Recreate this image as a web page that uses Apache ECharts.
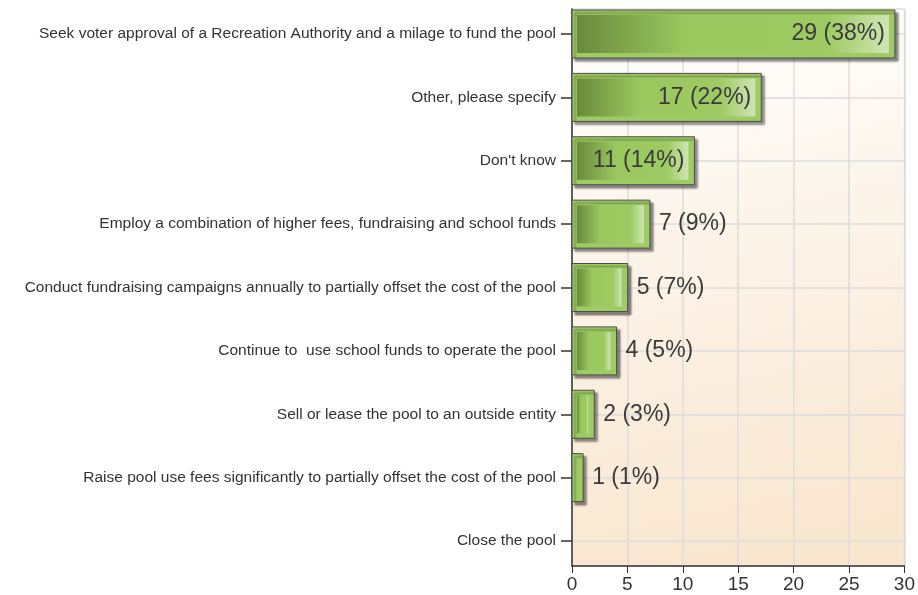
<!DOCTYPE html>
<html>
<head>
<meta charset="utf-8">
<script src="https://cdn.jsdelivr.net/npm/echarts@6/dist/echarts.min.js"></script>
<style>
  html, body { margin: 0; padding: 0; background: #fff; }
  #chart { width: 918px; height: 595px; }
</style>
</head>
<body>
<div id="chart"></div>
<script>
// survey answers, top to bottom
var categories = [
  'Seek voter approval of a Recreation Authority and a milage to fund the pool',
  'Other, please specify',
  "Don't know",
  'Employ a combination of higher fees, fundraising and school funds',
  'Conduct fundraising campaigns annually to partially offset the cost of the pool',
  'Continue to  use school funds to operate the pool',
  'Sell or lease the pool to an outside entity',
  'Raise pool use fees significantly to partially offset the cost of the pool',
  'Close the pool'
];
var counts = [29, 17, 11, 7, 5, 4, 2, 1, 0];
var percents = [38, 22, 14, 9, 7, 5, 3, 1, 0];

var labelFont = '23px "Liberation Sans"';
var measureCtx = document.createElement('canvas').getContext('2d');
measureCtx.font = labelFont;

function renderBar(params, api) {
  var v = api.value(0), idx = api.value(1);
  if (!v) return;
  var p0 = api.coord([0, idx]);
  var p1 = api.coord([v, idx]);
  var h = 48;
  var x = p0[0], y = p0[1] - h / 2, w = p1[0] - p0[0];
  var txt = counts[idx] + ' (' + percents[idx] + '%)';
  var tw = measureCtx.measureText(txt).width;
  var inside = tw + 20 < w;
  var children = [{
    type: 'rect',
    shape: { x: x, y: y, width: w, height: h },
    style: {
      fill: '#9fcb64', stroke: '#4d4d4d', lineWidth: 1,
      shadowBlur: 2, shadowOffsetX: 3, shadowOffsetY: 3, shadowColor: 'rgba(0,0,0,0.45)'
    }
  }];
  if (w > 12) {
    children.push({
      type: 'rect',
      shape: { x: x + 5, y: y + 5, width: w - 11, height: h - 10 },
      style: {
        fill: new echarts.graphic.LinearGradient(0, 0, 1, 0, [
          { offset: 0, color: '#6a8a3d' },
          { offset: 0.35, color: '#9ac85e' },
          { offset: 0.8, color: '#9dca62' },
          { offset: 1, color: '#cfe5b5' }
        ])
      }
    });
  }
  children.push({
    type: 'text',
    x: inside ? p1[0] - 10 : p1[0] + 9,
    y: p0[1],
    style: {
      text: txt, font: labelFont, fill: '#3a3a3a',
      align: inside ? 'right' : 'left', verticalAlign: 'middle'
    }
  });
  return { type: 'group', children: children };
}

var myChart = echarts.init(document.getElementById('chart'));
var option = {
  animation: false,
  grid: [
    {
      // frame + value axis
      left: 572, right: 12, top: 9, bottom: 29,
      show: true, borderColor: '#cfcfcf', borderWidth: 1,
      backgroundColor: new echarts.graphic.LinearGradient(0, 0, 0.35, 1, [
        { offset: 0, color: '#ffffff' },
        { offset: 1, color: '#f9e6cf' }
      ])
    },
    {
      // categories (ticks at centers)
      left: 572, right: 12, top: 34, bottom: 54
    }
  ],
  xAxis: [
    {
      gridIndex: 0, type: 'value', min: 0, max: 30, interval: 5,
      axisLine: { show: true, lineStyle: { color: '#333', width: 1.5 } },
      axisTick: { show: true, length: 7, lineStyle: { color: '#333' } },
      axisLabel: { color: '#333', fontSize: 19, fontFamily: 'Liberation Sans', margin: 9 },
      splitLine: { show: true, lineStyle: { color: '#dcdcdc', width: 1.5 } }
    },
    {
      gridIndex: 1, type: 'value', min: 0, max: 30, show: false
    }
  ],
  yAxis: [
    {
      gridIndex: 0, type: 'value', min: 0, max: 1,
      axisLine: { show: true, onZero: false, lineStyle: { color: '#333', width: 1.5 } },
      axisTick: { show: false }, axisLabel: { show: false }, splitLine: { show: false }
    },
    {
      gridIndex: 1, type: 'category', data: categories, inverse: true, boundaryGap: false,
      axisLine: { show: false },
      axisTick: { show: true, interval: 0, length: 11, lineStyle: { color: '#333', width: 1.5 } },
      axisLabel: { interval: 0, color: '#333', fontSize: 15.5, fontFamily: 'Liberation Sans', margin: 16 },
      splitLine: { show: true, interval: 0, lineStyle: { color: '#dcdcdc', width: 1.5 } }
    }
  ],
  series: [{
    type: 'custom',
    xAxisIndex: 1, yAxisIndex: 1,
    renderItem: renderBar,
    encode: { x: 0, y: 1 },
    data: counts.map(function (v, i) { return [v, i]; }),
    z: 3
  }]
};
myChart.setOption(option);
</script>
</body>
</html>
